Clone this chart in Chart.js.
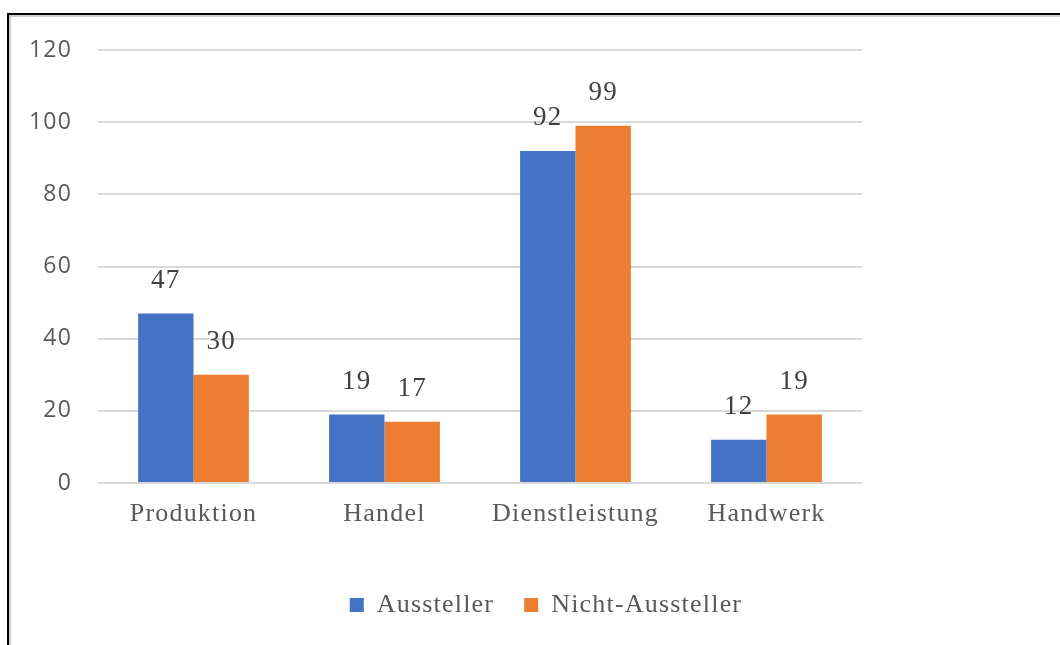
<!DOCTYPE html>
<html>
<head>
<meta charset="utf-8">
<script src="https://cdn.jsdelivr.net/npm/chart.js@4/dist/chart.umd.min.js"></script>
<style>
    html, body { margin: 0; padding: 0; background: #fff; overflow: hidden; }
    #wrap { position: relative; width: 1060px; height: 645px; }
    #frame {
        position: absolute; left: 7px; top: 13px; width: 2000px; height: 2000px;
        border-left: 2px solid #000; border-top: 2px solid #000;
        box-shadow: inset 2px 2px 0 #cfcfcf;
        pointer-events: none;
    }
</style>
</head>
<body>
<div id="wrap">
    <canvas id="chart" width="1060" height="645"></canvas>
    <div id="frame"></div>
</div>
<script>
// chart data
const categories = ['Produktion', 'Handel', 'Dienstleistung', 'Handwerk'];
const aussteller = [47, 19, 92, 12];
const nichtAussteller = [30, 17, 99, 19];
const yTicks = [0, 20, 40, 60, 80, 100, 120];

const SERIF = "'Liberation Serif', 'Times New Roman', serif";
const SANS = "'Open Sans', 'Liberation Sans', sans-serif";

// spacing like the original rendering
const spacing = {
    id: 'spacing',
    beforeLayout(chart) { chart.ctx.letterSpacing = '1.2px'; },
    beforeDraw(chart) { chart.ctx.letterSpacing = '1.2px'; }
};

// legend sits right of the plot centre in the original
const legendShift = {
    id: 'legendShift',
    afterLayout(chart) {
        chart.legend.left += 115;
        chart.legend.right += 115;
    }
};

// value labels above each bar
const barLabels = {
    id: 'barLabels',
    afterDatasetsDraw(chart) {
        const ctx = chart.ctx;
        ctx.save();
        ctx.font = `27px ${SERIF}`;
        ctx.fillStyle = '#404040';
        ctx.textAlign = 'center';
        ctx.textBaseline = 'middle';
        chart.data.datasets.forEach((ds, i) => {
            chart.getDatasetMeta(i).data.forEach((bar, j) => {
                ctx.fillText(String(ds.data[j]), bar.x, bar.y - 33);
            });
        });
        ctx.restore();
    }
};

new Chart(document.getElementById('chart'), {
    type: 'bar',
    data: {
        labels: categories,
        datasets: [
            {
                label: 'Aussteller',
                data: aussteller,
                backgroundColor: '#4472c4',
                categoryPercentage: 0.58,
                barPercentage: 1
            },
            {
                label: 'Nicht-Aussteller',
                data: nichtAussteller,
                backgroundColor: '#ed7d31',
                categoryPercentage: 0.58,
                barPercentage: 1
            }
        ]
    },
    options: {
        responsive: false,
        animation: false,
        layout: {
            padding: { top: 50, right: 198, bottom: 17, left: 0 }
        },
        plugins: {
            legend: {
                position: 'bottom',
                labels: {
                    color: '#595959',
                    font: { family: SERIF, size: 26 },
                    boxWidth: 14,
                    boxHeight: 14,
                    padding: 30
                }
            },
            tooltip: { enabled: false }
        },
        scales: {
            x: {
                grid: { display: false, drawTicks: false },
                border: { display: false },
                ticks: {
                    color: '#595959',
                    font: { family: SERIF, size: 26 },
                    padding: 16
                },
                afterFit(scale) { scale.height = 79; }
            },
            y: {
                min: 0,
                max: 120,
                afterBuildTicks(scale) {
                    scale.ticks = yTicks.map(v => ({ value: v }));
                },
                grid: { color: '#d9d9d9', lineWidth: 2, drawTicks: false },
                border: { display: false },
                ticks: {
                    color: '#595959',
                    font: { family: SANS, size: 23 },
                    padding: 26
                },
                afterFit(scale) { scale.width = 98; }
            }
        }
    },
    plugins: [spacing, legendShift, barLabels]
});
</script>
</body>
</html>
